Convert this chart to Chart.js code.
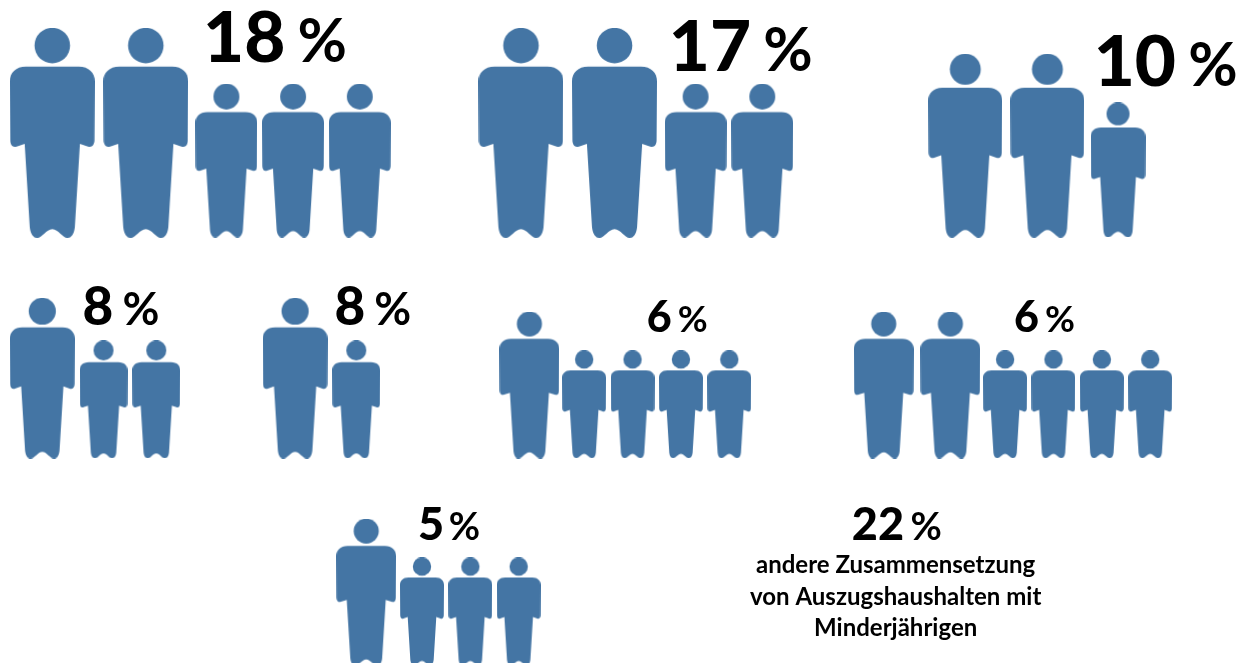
<!DOCTYPE html>
<html lang="de">
<head>
<meta charset="utf-8">
<title>Auszugshaushalte mit Minderjährigen</title>
<script src="https://cdn.jsdelivr.net/npm/chart.js@4"></script>
<style>
  html, body { margin: 0; background: #fff; }
  canvas { display: block; }
</style>
</head>
<body>
<canvas id="chart" width="1236" height="666"></canvas>
<script>
// values
const shares = [18, 17, 10, 8, 8, 6, 6, 5, 22];
const adults = [2, 2, 2, 1, 1, 1, 2, 1, 0];
const minors = [3, 2, 1, 2, 1, 4, 4, 3, 0];
const otherLines = ['andere Zusammensetzung', 'von Auszugshaushalten mit', 'Minderjährigen'];

// layout of the groups, in axis units (one per group)
const groupLeft = [7, 478, 930, 7, 261, 499, 855, 335];
const childLeft = [193.5, 665, 1093, 77, 331, 562, 985, 399];
const groupBase = [236, 236, 236, 459, 459, 459, 459, 668];
const adultHeight = [210, 210, 184, 161, 161, 147, 147, 147];
const adultPitch = [94, 94, 82.5, 0, 0, 0, 67, 0];
const childPitch = [67, 67, 0, 53, 0, 48.6, 48.6, 48.6];

const labelX = [201, 669, 1096, 80, 333, 647, 1016, 417, 853];
const labelY = [60, 69, 84, 325, 325, 332, 332, 542, 542];
const labelSize = [71, 71, 71, 53, 53, 43, 43, 45, 45];
const percentX = [296, 764, 1191, 120, 373, 678, 1047, 448, 912];

const BLUE = '#4475a4';
const FONT = 'Lato, "Open Sans", sans-serif';

function traceBody(ctx) {
  ctx.moveTo(.19, .185);
  ctx.lineTo(.81, .185);
  ctx.bezierCurveTo(.93, .185, 1, .215, 1, .255);
  ctx.lineTo(.995, .535);
  ctx.bezierCurveTo(.995, .56, .96, .572, .92, .565);
  ctx.lineTo(.825, .552);
  ctx.lineTo(.765, .95);
  ctx.bezierCurveTo(.755, .985, .72, 1, .68, 1);
  ctx.bezierCurveTo(.62, 1, .57, .958, .5, .958);
  ctx.bezierCurveTo(.43, .958, .38, 1, .32, 1);
  ctx.bezierCurveTo(.28, 1, .245, .985, .235, .95);
  ctx.lineTo(.175, .552);
  ctx.lineTo(.08, .565);
  ctx.bezierCurveTo(.04, .572, .005, .56, .005, .535);
  ctx.lineTo(0, .255);
  ctx.bezierCurveTo(0, .215, .07, .185, .19, .185);
  ctx.closePath();
}

const figures = {};
function figure(height) {
  const key = height.toFixed(1);
  if (figures[key]) return figures[key];
  const w = height * 85 / 210;
  const c = document.createElement('canvas');
  c.width = Math.round(w);
  c.height = Math.round(height);
  const ctx = c.getContext('2d');
  ctx.fillStyle = BLUE;
  // head keeps its round shape, so it is drawn before the stretched body
  ctx.beginPath();
  ctx.arc(c.width / 2, c.height * .084, c.width * .209, 0, Math.PI * 2);
  ctx.fill();
  ctx.save();
  ctx.scale(c.width, c.height);
  ctx.beginPath();
  traceBody(ctx);
  ctx.fill();
  ctx.restore();
  figures[key] = c;
  return c;
}

function buildPoints(counts, lefts, pitches, heightOf) {
  const points = [];
  counts.forEach((count, g) => {
    for (let i = 0; i < count; i++) {
      const h = heightOf(g);
      const icon = figure(h);
      points.push({
        x: lefts[g] + (pitches[g] * i) + icon.width / 2,
        y: groupBase[g] - icon.height / 2,
        h,
      });
    }
  });
  return points;
}

const iconDatasetOptions = {
  showLine: false,
  pointRadius: 2,
  pointHoverRadius: 2,
  pointStyle: ctx => figure(ctx.raw.h),
};

const textPlugin = {
  id: 'shareLabels',
  afterDatasetsDraw(chart) {
    const { ctx, scales: { x, y } } = chart;
    ctx.save();
    ctx.fillStyle = '#000';
    ctx.textBaseline = 'alphabetic';
    ctx.textAlign = 'left';
    shares.forEach((share, i) => {
      ctx.font = `900 ${labelSize[i]}px ${FONT}`;
      ctx.fillText(String(share), x.getPixelForValue(labelX[i]), y.getPixelForValue(labelY[i]));
      ctx.font = `700 ${labelSize[i] * .85}px ${FONT}`;
      ctx.fillText('%', x.getPixelForValue(percentX[i]), y.getPixelForValue(labelY[i]));
    });
    ctx.font = `700 24px ${FONT}`;
    ctx.textAlign = 'center';
    otherLines.forEach((line, i) => {
      ctx.fillText(line, x.getPixelForValue(897), y.getPixelForValue(575 + i * 32));
    });
    ctx.restore();
  },
};

new Chart(document.getElementById('chart'), {
  type: 'scatter',
  data: {
    datasets: [
      {
        ...iconDatasetOptions,
        label: 'Erwachsene',
        data: buildPoints(adults, groupLeft, adultPitch, g => adultHeight[g]),
      },
      {
        ...iconDatasetOptions,
        label: 'Minderjährige',
        data: buildPoints(minors, childLeft, childPitch, g => adultHeight[g] * 154 / 210),
      },
    ],
  },
  options: {
    responsive: false,
    animation: false,
    events: [],
    layout: { padding: 0 },
    plugins: { legend: { display: false }, tooltip: { enabled: false } },
    scales: {
      x: { type: 'linear', display: false, min: 0, max: 1236 },
      y: { type: 'linear', display: false, min: 0, max: 666, reverse: true },
    },
  },
  plugins: [textPlugin],
});
</script>
</body>
</html>
